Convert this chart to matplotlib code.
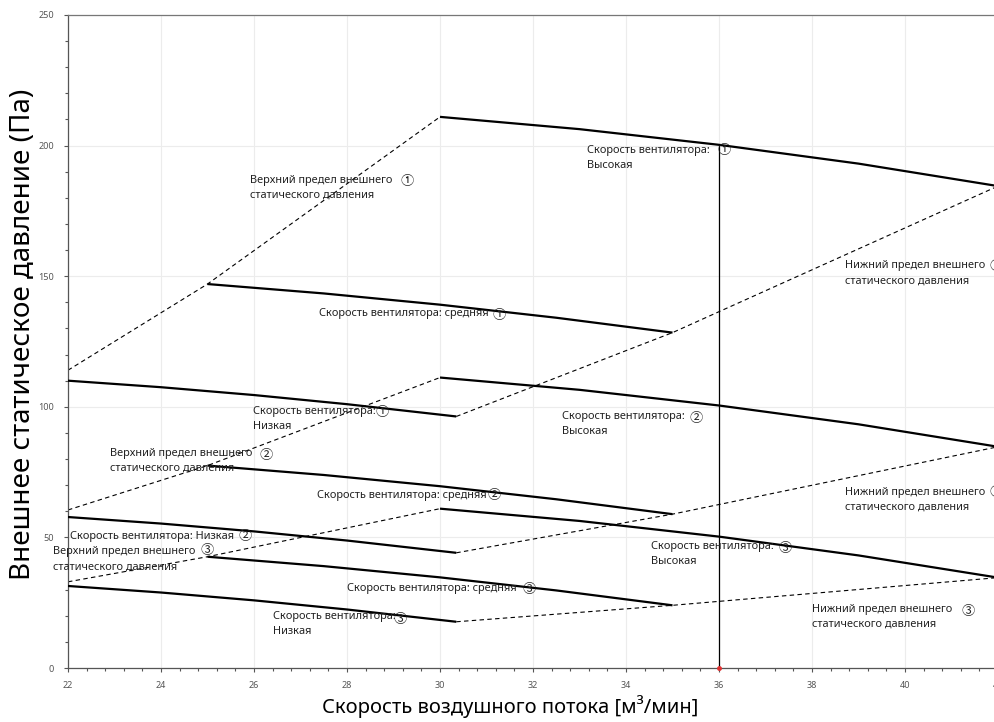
import matplotlib
matplotlib.use("Agg")
import matplotlib.pyplot as plt
from matplotlib.ticker import MultipleLocator

plt.rcParams['font.family'] = ['Noto Sans', 'Noto Sans CJK JP', 'DejaVu Sans']

# ---------------- data ----------------
# fan curves (solid): external static pressure [Pa] vs airflow [m3/min]
high_x = [30, 33, 36, 39, 42]
high1_y = [211, 206.3, 200.3, 193.1, 184.5]
high2_y = [111.2, 106.5, 100.5, 93.3, 84.7]
high3_y = [61, 56.3, 50.3, 43.1, 34.6]

med_x = [25, 27.5, 30, 32.5, 35]
med1_y = [147, 143.4, 139.1, 134.1, 128.4]
med2_y = [77.5, 73.9, 69.6, 64.6, 58.9]
med3_y = [42.6, 39.0, 34.7, 29.7, 24.0]

low_x = [22, 24, 26, 28, 30.35]
low1_y = [110, 107.5, 104.5, 101, 96.3]
low2_y = [57.8, 55.3, 52.3, 48.8, 44.1]
low3_y = [31.4, 28.9, 25.9, 22.4, 17.7]

# limit lines (dashed)
ul_x = [22, 25, 30]
ul1_y = [114, 147.0, 211]
ul2_y = [60.5, 77.5, 111.2]
ul3_y = [33, 42.6, 61]
ll_x = [30.35, 35, 42]
ll1_y = [96.3, 128.4, 184.5]
ll2_y = [44.1, 58.9, 84.7]
ll3_y = [17.7, 24.0, 34.6]

# operating point line
op_x = [36, 36]
op_y = [0, 200.3]

x_ticks = [22, 24, 26, 28, 30, 32, 34, 36, 38, 40, 42]
y_ticks = [0, 50, 100, 150, 200, 250]

xlabel = "Скорость воздушного потока [м³/мин]"
ylabel = "Внешнее статическое давление (Па)"

UP = "Верхний предел внешнего"
LO = "Нижний предел внешнего"
STAT = "статического давления"
FAN = "Скорость вентилятора:"

# annotations: (line1, line2, x, y, circle, cx, cy)
notes = [
    (UP, STAT, 25.91, 186.6, "①", 29.29, 186.4),
    (FAN, "Высокая", 33.16, 198.0, "①", 36.11, 198.0),
    (LO, STAT, 38.72, 154.0, "①", 41.96, 153.9),
    (FAN + " средняя", None, 27.39, 135.8, "①", 31.27, 134.8),
    (FAN, "Низкая", 25.97, 98.1, "①", 28.76, 97.7),
    (FAN, "Высокая", 32.62, 96.2, "②", 35.50, 95.6),
    (UP, STAT, 22.90, 82.2, "②", 26.27, 81.5),
    (FAN + " средняя", None, 27.35, 66.0, "②", 31.16, 66.0),
    (LO, STAT, 38.72, 67.3, "②", 41.96, 67.3),
    (FAN + " Низкая", None, 22.04, 50.5, "②", 25.81, 50.5),
    (UP, STAT, 21.68, 44.5, "③", 25.00, 44.8),
    (FAN, "Высокая", 34.53, 46.5, "③", 37.42, 45.8),
    (FAN + " средняя", None, 28.01, 30.5, "③", 31.92, 29.9),
    (LO, STAT, 37.99, 22.4, "③", 41.36, 21.8),
    (FAN, "Низкая", 26.40, 19.6, "③", 29.15, 18.4),
]

# ---------------- figure ----------------
fig = plt.figure(figsize=(9.95, 7.22), dpi=100)
ax = fig.add_axes([68 / 995, 1 - 668 / 722, 930 / 995, (668 - 15) / 722])

ax.set_xlim(22, 42)
ax.set_ylim(0, 250)

solid_kw = dict(color='black', lw=1.6, solid_capstyle='butt',
                solid_joinstyle='round', zorder=3)
dash_kw = dict(color='black', lw=0.8, dashes=(4, 3), zorder=2)

for xs, ys in [(high_x, high1_y), (med_x, med1_y), (low_x, low1_y),
               (high_x, high2_y), (med_x, med2_y), (low_x, low2_y),
               (high_x, high3_y), (med_x, med3_y), (low_x, low3_y)]:
    ax.plot(xs, ys, **solid_kw)

for xs, ys in [(ul_x, ul1_y), (ul_x, ul2_y), (ul_x, ul3_y),
               (ll_x, ll1_y), (ll_x, ll2_y), (ll_x, ll3_y)]:
    ax.plot(xs, ys, **dash_kw)

ax.plot(op_x, op_y, color='black', lw=0.9, zorder=3)
ax.plot([op_x[0]], [op_y[0]], 'o', color='#e03030', ms=2.5, zorder=4, clip_on=False)

# axes styling
ax.set_xticks(x_ticks)
ax.set_yticks(y_ticks)
ax.xaxis.set_minor_locator(MultipleLocator(0.4))
ax.yaxis.set_minor_locator(MultipleLocator(10))
ax.grid(True, which='major', color='#ececec', lw=0.8, zorder=0)
ax.set_axisbelow(True)
for s in ['left', 'bottom', 'top', 'right']:
    ax.spines[s].set_color('#555555')
    ax.spines[s].set_linewidth(0.9)
ax.spines['top'].set_color('#777777')
ax.tick_params(axis='both', which='major', direction='out', length=3, width=0.8,
               colors='#555555', labelsize=6.5, labelcolor='#555555')
ax.tick_params(axis='both', which='minor', direction='out', length=2.5, width=0.8,
               colors='#555555')
ax.tick_params(axis='y', which='major', pad=7)
ax.tick_params(axis='x', which='major', pad=6)

ax.set_xlabel(xlabel, fontsize=14.5)
ax.set_ylabel(ylabel, fontsize=20)
ax.xaxis.set_label_coords((510 - 68) / 930, -(695 - 668) / 653)
ax.yaxis.set_label_coords(-(68 - 37) / 930, (668 - 334) / 653)

txt_kw = dict(fontsize=7.9, color='#222222', va='center', ha='left', zorder=5)
circ_kw = dict(fontsize=9.5, color='#222222', va='center', ha='center', zorder=5,
               family=['Noto Sans CJK JP', 'DejaVu Sans'])
for l1, l2, tx, ty, c, cx, cy in notes:
    ax.text(tx, ty, l1, **txt_kw)
    if l2:
        ax.annotate(l2, xy=(tx, ty), xytext=(0, -10.8), textcoords='offset points',
                    annotation_clip=False, **txt_kw)
    ax.text(cx, cy, c, **circ_kw)

fig.savefig("out.png", dpi=100)
